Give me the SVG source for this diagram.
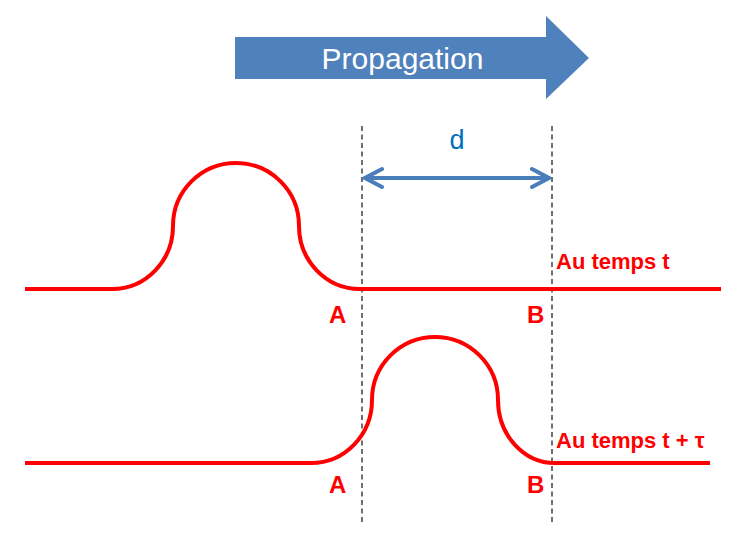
<svg xmlns="http://www.w3.org/2000/svg" width="755" height="558" viewBox="0 0 755 558">
<defs>
<style>
.wave{fill:none;stroke:#ff0000;stroke-width:4;stroke-linejoin:round}
.dash{fill:none;stroke:#333333;stroke-width:1.4;stroke-dasharray:5,3.5}
.lbl{font-family:"Liberation Sans",Arial,sans-serif;font-weight:bold;font-size:22px;fill:#ff0000}
.pt{font-family:"Liberation Sans",Arial,sans-serif;font-weight:bold;font-size:24px;fill:#ff0000}
.dim{fill:none;stroke:#4a7ebb;stroke-width:4}
</style>
<marker id="chev" viewBox="0 0 24 24" refX="22" refY="12" markerWidth="24" markerHeight="24" markerUnits="userSpaceOnUse" orient="auto-start-reverse">
<path d="M4,3 L21,12 L4,21" fill="none" stroke="#4a7ebb" stroke-width="4" stroke-linecap="round" stroke-linejoin="miter"/>
</marker>
</defs>
<rect width="755" height="558" fill="#ffffff"/>
<g id="propagation">
<polygon points="235,37 546,37 546,16 589,58 546,99 546,79 235,79" fill="#4f81bd"/>
<text x="402.5" y="69" text-anchor="middle" font-family="Liberation Sans, Arial, sans-serif" font-size="30" fill="#ffffff">Propagation</text>
</g>
<g id="connectors">
<line class="dash" x1="362" y1="126" x2="362" y2="525"/>
<line class="dash" x1="552" y1="126" x2="552" y2="525"/>
<line class="dim" x1="364" y1="178" x2="550" y2="178" marker-start="url(#chev)" marker-end="url(#chev)"/>
</g>
<g id="distance">
<text x="457" y="149" text-anchor="middle" font-family="Liberation Sans, Arial, sans-serif" font-size="27" fill="#0070c0">d</text>
</g>
<g id="wave-t">
<path class="wave" d="M25,289 H112 A61,63 0 0 0 173,226 A63,63 0 0 1 299,226 A61,63 0 0 0 360,289 H721"/>
<text class="lbl" x="556" y="269">Au temps t</text>
<text class="pt" x="329" y="323">A</text>
<text class="pt" x="527" y="323">B</text>
</g>
<g id="wave-t-tau">
<path class="wave" d="M25,463 H311 A61,63 0 0 0 372,400 A63,63 0 0 1 498,400 A57,63 0 0 0 555,463 H710"/>
<text class="lbl" x="556" y="448">Au temps t + τ</text>
<text class="pt" x="329" y="493">A</text>
<text class="pt" x="527" y="493">B</text>
</g>
</svg>
